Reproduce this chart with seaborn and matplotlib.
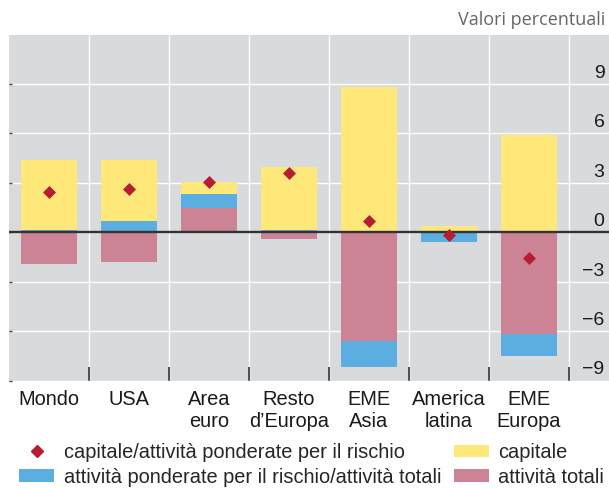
import matplotlib.pyplot as plt
from matplotlib.lines import Line2D
from matplotlib.patches import Patch
import matplotlib.transforms as mtransforms
import seaborn as sns
import numpy as np

# values (percent)
regions = ["Mondo", "USA", "Area\neuro", "Resto\nd’Europa", "EME\nAsia",
           "America\nlatina", "EME\nEuropa"]
capitale = [4.25, 3.70, 0.73, 3.83, 8.83, 0.38, 5.89]
rwa_su_attivita = [0.14, 0.69, 0.83, 0.14, -1.56, -0.57, -1.31]
attivita_totali = [-1.93, -1.79, 1.50, -0.40, -6.61, 0.0, -6.19]
capitale_su_rwa = [2.47, 2.63, 3.08, 3.58, 0.69, -0.14, -1.56]
y_ticks = [-9, -6, -3, 0, 3, 6, 9]

GREY = "#d9dadc"
YELLOW = "#ffe87a"
BLUE = "#5daee0"
PINK = "#cd8396"
RED = "#b71c33"

sns.set_theme(style="darkgrid", rc={"axes.facecolor": GREY, "grid.color": "white"})
plt.rcParams["font.family"] = ["Liberation Sans", "DejaVu Sans"]
FS = 14.4

fig = plt.figure(figsize=(6.09, 4.88), dpi=100)
ax = fig.add_axes([9 / 609, 1 - 380.5 / 488, 600 / 609, 345.8 / 488])

# stacked bars: positives and negatives stacked separately
n = len(regions)
pos_base = np.zeros(n)
neg_base = np.zeros(n)
for vals, col in [(attivita_totali, PINK), (rwa_su_attivita, BLUE), (capitale, YELLOW)]:
    vals = np.asarray(vals, dtype=float)
    base = np.where(vals >= 0, pos_base, neg_base)
    sns.barplot(x=regions, y=vals, order=regions, color=col, saturation=1,
                width=0.71, bottom=base, errorbar=None, linewidth=0,
                ax=ax, zorder=2)
    pos_base += np.clip(vals, 0, None)
    neg_base += np.clip(vals, None, 0)

ax.axhline(0, color="#333333", lw=1.7, zorder=3)

sns.scatterplot(x=regions, y=capitale_su_rwa, marker="D", s=44, color=RED,
                linewidth=0, ax=ax, zorder=4)

ax.set_xlim(-0.5, 7.0)
ax.set_ylim(-9, 12)
ax.set_xlabel("")
ax.set_ylabel("")
for s in ax.spines.values():
    s.set_visible(False)

# grid
ax.set_yticks(y_ticks)
ax.set_xticks(np.arange(0.5, 7, 1.0), minor=True)
ax.grid(False)
ax.grid(True, which="major", axis="y", color="white", lw=1.0)
ax.grid(True, which="minor", axis="x", color="white", lw=1.0)

ax.tick_params(axis="y", labelleft=False, left=True, direction="in",
               length=2, width=1, color="#444444")
ax.tick_params(axis="x", which="major", length=0, pad=7, labelsize=FS,
               colors="#1a1a1a")
ax.tick_params(axis="x", which="minor", bottom=True, direction="in",
               length=10, width=1.2, color="#333333")
for t in ax.get_xticklabels():
    t.set_linespacing(1.16)

# y labels inside the plot, on the right, just above the gridlines
off = mtransforms.ScaledTranslation(0, 0.06, fig.dpi_scale_trans)
for v in y_ticks:
    ax.text(0.9925, v, str(v).replace("-", "\u2212"),
            transform=ax.get_yaxis_transform() + off,
            ha="right", va="baseline", fontsize=14, color="#1a1a1a")

fig.text(605 / 609, 1 - 20 / 488, "Valori percentuali", ha="right", va="center",
         fontsize=13, color="#666666", family=["Open Sans", "DejaVu Sans"])

handles = [
    Line2D([], [], marker="D", color=RED, linestyle="none", markersize=6.5),
    Patch(facecolor=BLUE, edgecolor="none"),
    Patch(facecolor=YELLOW, edgecolor="none"),
    Patch(facecolor=PINK, edgecolor="none"),
]
labels = [
    "capitale/attività ponderate per il rischio",
    "attività ponderate per il rischio/attività totali",
    "capitale",
    "attività totali",
]
fig.legend(handles, labels, ncol=2, loc="upper left",
           bbox_to_anchor=(19 / 609, 1 - 443 / 488), frameon=False,
           fontsize=FS, handlelength=1.75, handleheight=0.6,
           handletextpad=0.5, columnspacing=0.6, labelspacing=0.28,
           borderpad=0, borderaxespad=0)

fig.savefig("out.png", dpi=100)
